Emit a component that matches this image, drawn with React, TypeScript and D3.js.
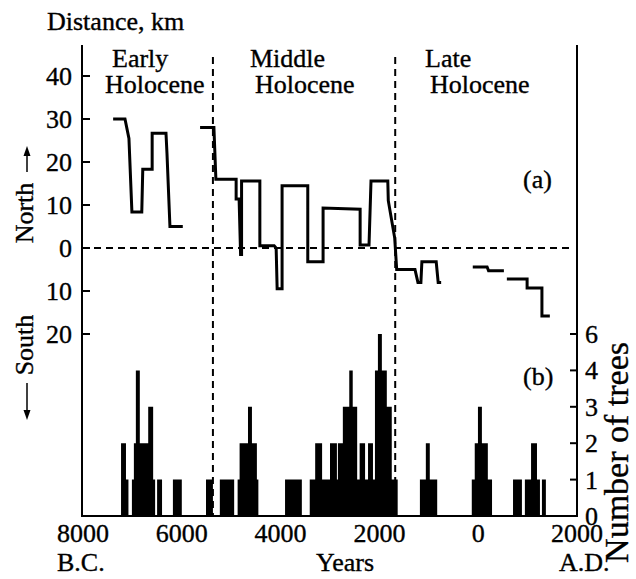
import React from 'react';
import * as d3 from 'd3';

// (a) migration of the tree line, km (north positive), as [year, km]; BC years negative
const earlySegment: [number, number][] = [
  [-7390, 30], [-7150, 30], [-7070, 25.5], [-7010, 8.4], [-6810, 8.4], [-6790, 18.3],
  [-6600, 18.3], [-6600, 26.7], [-6320, 26.7], [-6300, 22], [-6240, 5], [-5980, 5],
];
const middleSegment: [number, number][] = [
  [-5630, 28], [-5350, 28], [-5310, 16], [-4900, 16], [-4900, 11.4], [-4840, 11.4],
  [-4810, -1.5], [-4790, -1.5], [-4790, 15.6], [-4420, 15.6], [-4420, 0.5], [-4130, 0.5],
  [-4090, 0], [-4070, -9.5], [-3970, -9.5], [-3970, 14.5], [-3450, 14.5], [-3450, -3.2],
  [-3140, -3.2], [-3140, 9.3], [-2390, 9], [-2390, 0.7], [-2210, 0.7], [-2170, 15.6],
  [-1830, 15.6], [-1820, 11], [-1690, 2.3], [-1650, -5], [-1280, -5], [-1220, -8],
  [-1160, -8], [-1140, -3.2], [-850, -3.2], [-810, -8], [-750, -8],
];
const lateSegmentA: [number, number][] = [
  [-110, -4.4], [180, -4.4], [210, -5.3], [520, -5.3],
];
const lateSegmentB: [number, number][] = [
  [580, -7.2], [990, -7.2], [990, -9.3], [1290, -9.3], [1290, -15.8], [1450, -15.8],
];
const segments = [earlySegment, middleSegment, lateSegmentA, lateSegmentB];

// (b) number of trees: year where the count changes, and count from that year on
const treeYears = [
  -7230, -7130, -7080, -7010, -6970, -6930, -6850, -6680, -6580, -6540, -6500, -6400,
  -6180, -6000, -5510, -5370, -5230, -4940, -4870, -4830, -4660, -4580, -4480, -4450,
  -3910, -3570, -3410, -3300, -3160, -3000, -2860, -2840, -2740, -2610, -2540, -2450,
  -2400, -2290, -2230, -2130, -2090, -2030, -1950, -1850, -1750, -1630, -1180, -1060,
  -980, -830, -130, -70, -5, 75, 195, 280, 705, 885, 945, 1070, 1190, 1250, 1290, 1370,
];
const treeCounts = [
  2, 1, 0, 1, 2, 4, 2, 3, 1, 0, 1, 0,
  1, 0, 1, 0, 1, 0, 1, 2, 3, 2, 1, 0,
  1, 0, 1, 2, 1, 2, 1, 2, 3, 4, 3, 1,
  2, 1, 2, 1, 4, 6, 4, 3, 1, 0, 1, 2,
  1, 0, 1, 2, 3, 2, 1, 0, 1, 0, 1, 2, 1, 0, 1, 0,
];

const kmTicks = [40, 30, 20, 10, 0, -10, -20];
const kmTickLabels = ['40', '30', '20', '10', '0', '10', '20'];
const treeTickLabels = ['0', '1', '2', '3', '4', '6'];
const yearTicks = [-8000, -6000, -4000, -2000, 0, 2000];
const yearTickLabels = ['8000', '6000', '4000', '2000', '0', '2000'];
const periodBounds = [-5370, -1680];
const periodNames = [
  { line1: 'Early', line2: 'Holocene', x1: 112, x2: 105 },
  { line1: 'Middle', line2: 'Holocene', x1: 250, x2: 255 },
  { line1: 'Late', line2: 'Holocene', x1: 425, x2: 430 },
];

export default function App() {
  const W = 636, H = 579;
  const left = 82, right = 577, top = 45, bottom = 516;
  const font = "'Liberation Serif', 'Times New Roman', serif";

  const x = d3.scaleLinear().domain([-8000, 2000]).range([83, 577]);
  const yKm = d3.scaleLinear().domain([-20, 40]).range([334, 76]);
  const yTree = d3.scaleLinear().domain([0, 5]).range([bottom, 334]);
  const levelOf = (c: number) => treeTickLabels.indexOf(String(c));

  const line = d3.line<[number, number]>()
    .x(d => x(d[0]))
    .y(d => yKm(d[1]));

  const treeData = treeYears.map((yr, i) => ({ yr, c: treeCounts[i] }));
  const area = d3.area<{ yr: number; c: number }>()
    .x(d => x(d.yr))
    .y0(yTree(0))
    .y1(d => yTree(levelOf(d.c)))
    .curve(d3.curveStepAfter);

  return (
    <svg width={W} height={H} style={{ position: 'absolute', left: 0, top: 0, background: '#fff', fontFamily: font, fontSize: 26 }}
      fill="#000">
      <rect x={0} y={0} width={W} height={H} fill="#fff" />
      <g stroke="#000" strokeWidth={0.35}>
        <text x={47} y={30}>Distance, km</text>

        {periodNames.map((p, i) => (
          <g key={i}>
            <text x={p.x1} y={67}>{p.line1}</text>
            <text x={p.x2} y={93}>{p.line2}</text>
          </g>
        ))}
      </g>

      {/* tree count histogram */}
      <path d={area(treeData) || ''} fill="#000" stroke="none" />

      {/* period boundaries */}
      {periodBounds.map((b, i) => (
        <line key={i} x1={x(b)} x2={x(b)} y1={57} y2={bottom} stroke="#000" strokeWidth={2} strokeDasharray="7,5" />
      ))}
      <line x1={left} x2={570} y1={yKm(0)} y2={yKm(0)} stroke="#000" strokeWidth={1.8} strokeDasharray="7,5" />

      {/* distance series */}
      {segments.map((s, i) => (
        <path key={i} d={line(s) || ''} fill="none" stroke="#000" strokeWidth={3} strokeLinejoin="miter" />
      ))}

      {/* frame */}
      <line x1={left} x2={left} y1={top} y2={bottom} stroke="#000" strokeWidth={2} />
      <line x1={right} x2={right} y1={top} y2={bottom} stroke="#000" strokeWidth={2} />
      <line x1={left - 1} x2={right + 1} y1={bottom} y2={bottom} stroke="#000" strokeWidth={2} />

      <g stroke="#000" strokeWidth={0.35}>
        {kmTicks.map((t, i) => (
          <g key={i}>
            <line x1={left} x2={left + 8} y1={yKm(t)} y2={yKm(t)} strokeWidth={2} />
            <text x={72} y={yKm(t) + 9} textAnchor="end">{kmTickLabels[i]}</text>
          </g>
        ))}

        {treeTickLabels.map((l, i) => (
          <g key={i}>
            {i > 0 && <line x1={right - 7} x2={right} y1={yTree(i)} y2={yTree(i)} strokeWidth={2} />}
            <text x={585} y={yTree(i) + 9}>{l}</text>
          </g>
        ))}

        {yearTicks.map((t, i) => (
          <text key={i} x={x(t)} y={542} textAnchor="middle">{yearTickLabels[i]}</text>
        ))}
        <text x={57} y={571}>B.C.</text>
        <text x={345} y={571} textAnchor="middle">Years</text>
        <text x={559} y={571}>A.D.</text>

        <text x={523} y={188}>(a)</text>
        <text x={523} y={385}>(b)</text>

        {/* North / South labels with arrows */}
        <text transform="translate(33,213) rotate(-90)" textAnchor="middle">North</text>
        <text transform="translate(33,345) rotate(-90)" textAnchor="middle">South</text>

        <text transform="translate(628,342) rotate(-90)" textAnchor="end" fontSize={34}>Number of trees</text>
      </g>
      <line x1={27} x2={27} y1={172} y2={152} stroke="#000" strokeWidth={1.5} />
      <path d="M27,146 L23.5,156 L30.5,156 Z" fill="#000" />
      <line x1={27} x2={27} y1={383} y2={414} stroke="#000" strokeWidth={1.5} />
      <path d="M27,420 L23.5,410 L30.5,410 Z" fill="#000" />
    </svg>
  );
}
